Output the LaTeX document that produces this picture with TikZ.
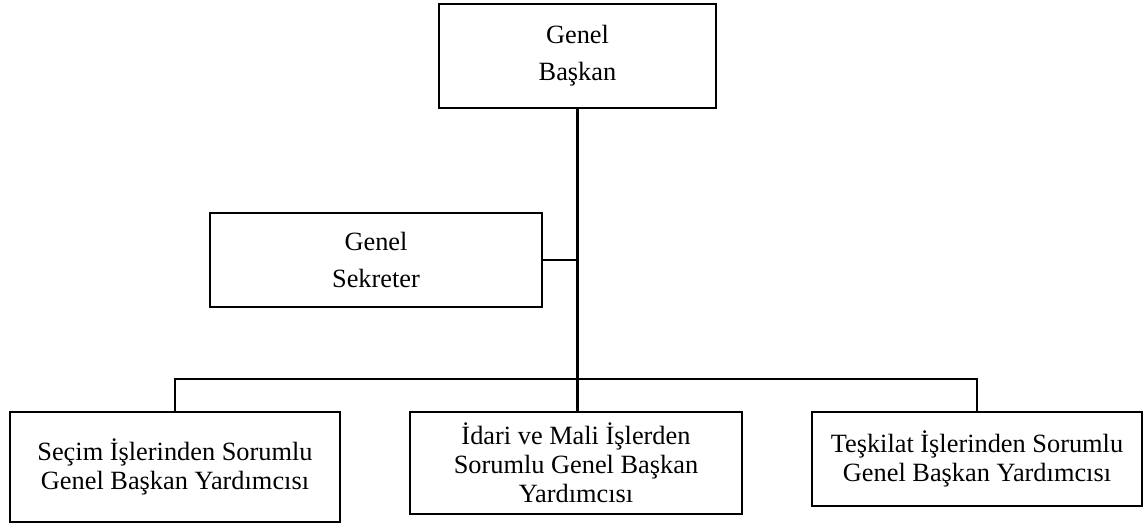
\documentclass[tikz,border=0pt]{standalone}
\usepackage{fontspec}
\setmainfont{Liberation Serif}
\begin{document}
\begin{tikzpicture}[x=0.02cm,y=-0.02cm,
    unitbox/.style={draw,line width=1.1pt,align=center,inner sep=0pt},
    topbox/.style={unitbox,font=\fontsize{15}{21}\selectfont},
    lowbox/.style={unitbox,font=\fontsize{15}{16.5}\selectfont}]
              \useasboundingbox (0,0) rectangle (1144,524);
              \node[topbox,minimum width=277*0.02cm,minimum height=104*0.02cm] (gb) at (577.5,56) {Genel\\Başkan};
              \node[topbox,minimum width=332*0.02cm,minimum height=94*0.02cm] (gs) at (376,260) {Genel\\Sekreter};
              \node[lowbox,minimum width=330*0.02cm,minimum height=110*0.02cm] (secim) at (175,467) {Seçim İşlerinden Sorumlu\\Genel Başkan Yardımcısı};
              \node[lowbox,minimum width=332*0.02cm,minimum height=102*0.02cm] (idari) at (576,463) {İdari ve Mali İşlerden\\Sorumlu Genel Başkan\\Yardımcısı};
              \node[lowbox,minimum width=330*0.02cm,minimum height=94*0.02cm] (teskilat) at (977,459) {Teşkilat İşlerinden Sorumlu\\Genel Başkan Yardımcısı};
              \coordinate (bus) at (577,379);
              \draw[line width=1.7pt] (gb.south) -- (gb.south |- idari.north);
              \draw[line width=1.1pt] (gs.east) -- (gs.east -| gb.south);
              \draw[line width=1.1pt] (secim.north) |- (bus) -| (teskilat.north);
        \end{tikzpicture}
\end{document}
